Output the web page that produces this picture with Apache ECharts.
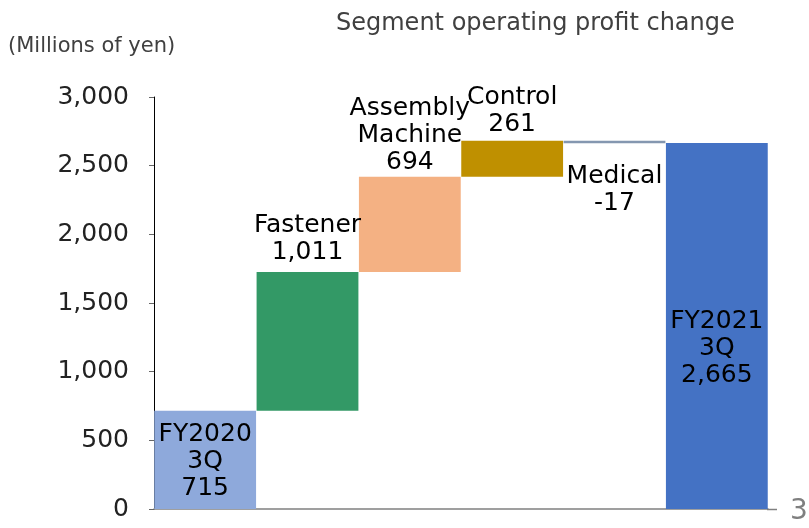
<!DOCTYPE html>
<html><head><meta charset="utf-8">
<script src="https://cdn.jsdelivr.net/npm/echarts@6/dist/echarts.min.js"></script>
<style>html,body{margin:0;padding:0;background:#fff}#c{width:809px;height:528px}</style>
</head><body><div id="c"></div>
<script>
const categories = ['FY2020\n3Q', 'Fastener', 'Assembly\nMachine', 'Control', 'Medical', 'FY2021\n3Q'];
const values = [715, 1011, 694, 261, -17, 2665];
const kinds = ['total', 'delta', 'delta', 'delta', 'delta', 'total'];
const colors = ['#8EA9DB', '#339966', '#F4B183', '#BF9000', '#8497B0', '#4472C4'];
const yTicks = [0, 500, 1000, 1500, 2000, 2500, 3000];

const FONT = '"DejaVu Sans", sans-serif';
let run = 0;
const bases = [], heights = [];
values.forEach((v, i) => {
  if (kinds[i] === 'total') { bases.push(0); heights.push(v); run = v; }
  else if (v >= 0) { bases.push(run); heights.push(v); run += v; }
  else { run += v; bases.push(run); heights.push(-v); }
});
const fmt = v => (v < 0 ? '-' : '') + Math.abs(v).toLocaleString('en-US');
const labelCfg = [
  { position: 'inside', offset: [0, 2] },
  { position: 'top', distance: 6 },
  { position: 'top', distance: 1 },
  { position: 'top', distance: 3 },
  { position: 'bottom', distance: 20 },
  { position: 'inside', offset: [0, 22] }
];
const visData = heights.map((h, i) => ({
  value: h,
  itemStyle: { color: colors[i] },
  label: Object.assign({
    show: true,
    formatter: categories[i] + '\n' + fmt(values[i]),
    fontSize: 25, lineHeight: 27, color: '#000', fontFamily: FONT
  }, labelCfg[i])
}));

const chart = echarts.init(document.getElementById('c'));
chart.setOption({
  animation: false,
  grid: { left: 154, right: 41, top: 97, bottom: 19 },
  xAxis: {
    type: 'category', data: categories,
    axisLine: { lineStyle: { color: '#808080', width: 1.5 } },
    axisTick: { show: false }, axisLabel: { show: false }
  },
  yAxis: {
    type: 'value', min: 0, max: 3000, interval: 500,
    axisLine: { show: true, lineStyle: { color: '#000', width: 1 } },
    axisTick: { show: true, length: 5, lineStyle: { color: '#666' } },
    splitLine: { show: false },
    axisLabel: { fontSize: 25, color: '#222', margin: 25, fontFamily: FONT,
      formatter: v => yTicks.includes(v) ? v.toLocaleString('en-US') : '' }
  },
  series: [
    { type: 'bar', stack: 'w', data: bases, itemStyle: { color: 'transparent' }, barWidth: '99.5%', silent: true },
    { type: 'bar', stack: 'w', data: visData, barWidth: '99.5%' }
  ],
  graphic: [
    { type: 'line', shape: { x1: 767, y1: 509.5, x2: 777, y2: 509.5 }, style: { stroke: '#808080', lineWidth: 1.5 } },
    { type: 'text', left: 336, top: 12, style: { text: 'Segment operating profit change', fontSize: 24, fill: '#404040', fontFamily: FONT } },
    { type: 'text', left: 8, top: 36, style: { text: '(Millions of yen)', fontSize: 21, fill: '#404040', fontFamily: FONT } },
    { type: 'text', left: 790, top: 498, style: { text: '3', fontSize: 28, fill: '#7f7f7f', fontFamily: FONT } }
  ]
});
</script></body></html>
